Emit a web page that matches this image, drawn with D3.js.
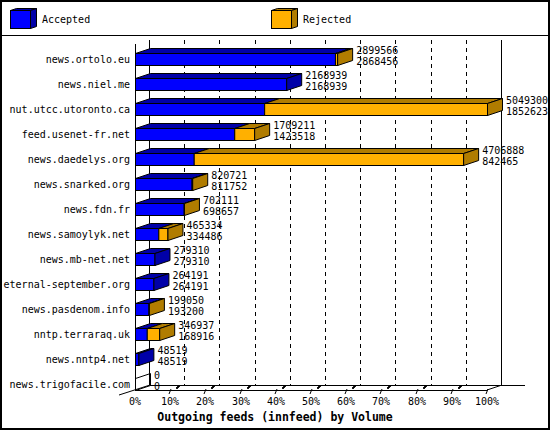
<!DOCTYPE html>
<html><head><meta charset="utf-8">
<script src="https://cdn.jsdelivr.net/npm/d3@7/dist/d3.min.js"></script>
<style>body{margin:0;background:#fff}svg{display:block}text{font-family:"DejaVu Sans Mono",monospace}</style>
</head><body><svg id="c" width="550" height="430"></svg>
<script>
const categories = ["news.ortolo.eu","news.niel.me","nut.utcc.utoronto.ca","feed.usenet-fr.net","news.daedelys.org","news.snarked.org","news.fdn.fr","news.samoylyk.net","news.mb-net.net","eternal-september.org","news.pasdenom.info","nntp.terraraq.uk","news.nntp4.net","news.trigofacile.com"];
const offered = [2899566,2168939,5049300,1709211,4706888,820721,702111,465334,279310,264191,199050,346937,48519,0];
const accepted = [2868456,2168939,1852623,1423518,842465,811752,698657,334486,279310,264191,193200,168916,48519,0];
const tickPercents = [0,10,20,30,40,50,60,70,80,90,100];
const seriesNames = ["Accepted","Rejected"];
const title = "Outgoing feeds (innfeed) by Volume";

const svg = d3.select("#c");
const W=550,H=430;
const BLUE="#0000ff", BLUE_D="#0000a8", OR="#ffb000", OR_D="#b07c00";
const DX=15, DY=5;
const X0=135, X1=487, YTOP=44, YFLOOR=390;

svg.append("rect").attr("x",0).attr("y",0).attr("width",W).attr("height",H).attr("fill","#fff");

const maxV = d3.max(offered);
const x = d3.scaleLinear().domain([0,maxV]).range([X0,X1]);
const xp = d3.scaleLinear().domain([0,100]).range([X0,X1]);
const y = d3.scaleBand().domain(categories).range([47,396.5]).padding(0);

// back grid
const g = svg.append("g");
tickPercents.forEach((p,i)=>{
  const bx = Math.round(xp(p)+DX-1)+0.5;
  if(i===0 || i===tickPercents.length-1){
    g.append("line").attr("x1",bx).attr("x2",bx).attr("y1",40).attr("y2",YFLOOR-DY).attr("stroke","#000");
  } else {
    g.append("line").attr("x1",bx).attr("x2",bx).attr("y1",40).attr("y2",YFLOOR-DY).attr("stroke","#000").attr("stroke-dasharray","4,4");
  }
});
// back floor line
g.append("line").attr("x1",X0+DX).attr("x2",525).attr("y1",YFLOOR-DY+0.5).attr("y2",YFLOOR-DY+0.5).attr("stroke","#000");
// front floor
g.append("line").attr("x1",X0).attr("x2",X1).attr("y1",YFLOOR+0.5).attr("y2",YFLOOR+0.5).attr("stroke","#000");
// diagonals
g.append("line").attr("x1",119).attr("y1",395).attr("x2",X0+DX).attr("y2",YFLOOR-DY).attr("stroke","#000");
g.append("line").attr("x1",X1).attr("y1",YFLOOR).attr("x2",X1+DX).attr("y2",YFLOOR-DY).attr("stroke","#000");
// left front axis
g.append("line").attr("x1",X0+0.5).attr("x2",X0+0.5).attr("y1",YTOP).attr("y2",YFLOOR).attr("stroke","#000");

// ticks
tickPercents.forEach((p,i)=>{
  const tx = Math.round(xp(p));
  if(i>0){
    g.append("line").attr("x1",tx-1).attr("y1",394).attr("x2",tx+1).attr("y2",389).attr("stroke","#000");
    if(i<tickPercents.length-1){
      g.append("path").attr("d",`M${tx+6},388 L${tx+9},385 L${tx+10},386 L${tx+7},389 Z`).attr("fill","#000").attr("stroke","#000").attr("stroke-width",0.8);
    }
  }
  g.append("text").attr("x",tx).attr("y",405).attr("text-anchor","middle").attr("font-size","10px").text(p+"%");
});

// bars
const bars = svg.append("g").attr("stroke","#000").attr("stroke-width",1).attr("stroke-linejoin","miter");
categories.forEach((cat,i)=>{
  const c = Math.round(y(cat)+y.bandwidth()/2);
  const top=c-6, bot=c+6;
  const xa = x(0), xb = x(accepted[i]), xc = x(offered[i]);
  const segs = [];
  if(accepted[i]>0) segs.push([xa,xb,BLUE,BLUE_D]);
  if(offered[i]-accepted[i]>0) segs.push([xb,xc,OR,OR_D]);
  segs.forEach(s=>{
    bars.append("rect").attr("x",s[0]+0.5).attr("y",top+0.5).attr("width",Math.max(0,s[1]-s[0])).attr("height",bot-top).attr("fill",s[2]);
    bars.append("path").attr("d",`M${s[0]+0.5},${top+0.5} L${s[0]+DX+0.5},${top-DY+0.5} L${s[1]+DX+0.5},${top-DY+0.5} L${s[1]+0.5},${top+0.5} Z`).attr("fill",s[3]);
  });
  const last = segs.length? segs[segs.length-1] : null;
  bars.append("path").attr("d",`M${xc+0.5},${top+0.5} L${xc+DX+0.5},${top-DY+0.5} L${xc+DX+0.5},${bot-DY+0.5} L${xc+0.5},${bot+0.5} Z`).attr("fill", last? last[3] : "none");
  // labels
  svg.append("text").attr("x",xc+19).attr("y",c-5).attr("font-size","10px").text(offered[i]);
  svg.append("text").attr("x",xc+19).attr("y",c+6).attr("font-size","10px").text(accepted[i]);
  svg.append("text").attr("x",130).attr("y",c+4).attr("text-anchor","end").attr("font-size","10px").text(cat);
});

// legend
const leg = svg.append("g");
leg.append("line").attr("x1",0).attr("x2",W).attr("y1",35.5).attr("y2",35.5).attr("stroke","#000");
[[10,BLUE,BLUE_D],[271,OR,OR_D]].forEach((L,i)=>{
  const lx=L[0];
  const gg = leg.append("g").attr("stroke","#000");
  gg.append("rect").attr("x",lx+0.5).attr("y",10.5).attr("width",20).attr("height",18).attr("fill",L[1]);
  gg.append("path").attr("d",`M${lx+0.5},10.5 L${lx+6.5},8.5 L${lx+26.5},8.5 L${lx+20.5},10.5 Z`).attr("fill",L[2]);
  gg.append("path").attr("d",`M${lx+20.5},10.5 L${lx+26.5},8.5 L${lx+26.5},26.5 L${lx+20.5},28.5 Z`).attr("fill",L[2]);
  leg.append("text").attr("x",lx+32).attr("y",23).attr("font-size","10px").text(seriesNames[i]);
});

// title
svg.append("text").attr("x",275).attr("y",421).attr("text-anchor","middle").attr("font-size","11.5px").attr("font-weight","bold").text(title);

// border
svg.append("rect").attr("x",1).attr("y",1).attr("width",W-2).attr("height",H-2).attr("fill","none").attr("stroke","#000").attr("stroke-width",2);
</script></body></html>
